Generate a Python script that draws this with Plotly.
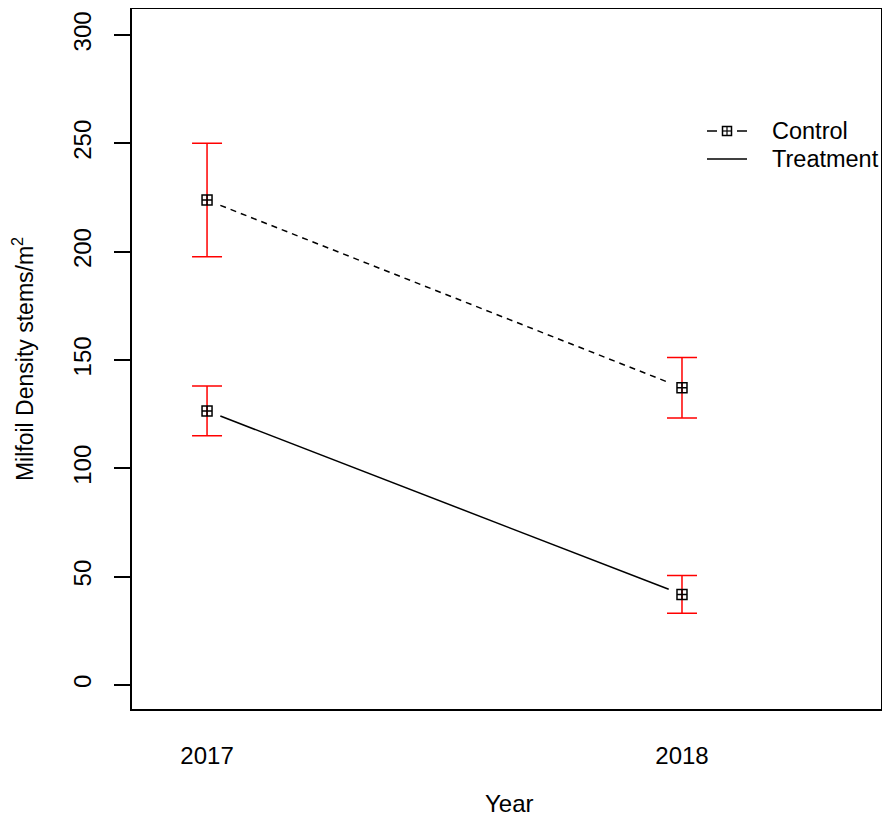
import plotly.graph_objects as go

years = [2017, 2018]
control_mean = [223.8, 137.2]
control_err = [26.2, 14.0]
treatment_mean = [126.5, 41.8]
treatment_err = [11.5, 8.7]
y_ticks = [0, 50, 100, 150, 200, 250, 300]
legend_labels = ["Control", "Treatment"]
x_title = "Year"

FONT = "Liberation Sans, Arial, sans-serif"
fig = go.Figure()

def gapped(xs, ys, t0=0.028):
    x0, x1 = xs
    y0, y1 = ys
    return ([x0 + (x1 - x0) * t0, x0 + (x1 - x0) * (1 - t0)],
            [y0 + (y1 - y0) * t0, y0 + (y1 - y0) * (1 - t0)])

DASH = "6px,5px"
# connecting lines with gaps around the points (R type="b")
cx, cy = gapped(years, control_mean)
fig.add_trace(go.Scatter(x=cx, y=cy, mode="lines", showlegend=False,
                         line=dict(color="black", width=1.5, dash=DASH)))
tx, ty = gapped(years, treatment_mean)
fig.add_trace(go.Scatter(x=tx, y=ty, mode="lines", showlegend=False,
                         line=dict(color="black", width=1.5)))

# points with error bars
for mean, err in [(control_mean, control_err), (treatment_mean, treatment_err)]:
    fig.add_trace(go.Scatter(
        x=years, y=mean, mode="markers", showlegend=False,
        marker=dict(symbol="square-cross-open", size=10, color="black",
                    line=dict(color="black", width=1.5)),
        error_y=dict(type="data", array=err, visible=True, color="#ff0000",
                     thickness=1.5, width=15)))

# plot area in page pixels (figure is offset by the 8px page margin)
PL, PR, PT, PB = 132, 881, 9, 709
def px(x):
    return (x - PL) / (PR - PL)
def py(y):
    return (PB - y) / (PB - PT)

# manual legend (R style)
shapes = []
ly1, ly2 = 131, 159
LX = 707
shapes.append(dict(type="line", xref="paper", yref="paper", x0=px(LX), x1=px(LX + 10),
                   y0=py(ly1), y1=py(ly1), line=dict(color="black", width=1.5)))
shapes.append(dict(type="line", xref="paper", yref="paper", x0=px(LX + 30), x1=px(LX + 40),
                   y0=py(ly1), y1=py(ly1), line=dict(color="black", width=1.5)))
shapes.append(dict(type="rect", xref="paper", yref="paper", x0=px(LX + 15.5), x1=px(LX + 24.5),
                   y0=py(ly1 + 4.5), y1=py(ly1 - 4.5), line=dict(color="black", width=1.5)))
shapes.append(dict(type="line", xref="paper", yref="paper", x0=px(LX + 15.5), x1=px(LX + 24.5),
                   y0=py(ly1), y1=py(ly1), line=dict(color="black", width=1.2)))
shapes.append(dict(type="line", xref="paper", yref="paper", x0=px(LX + 20), x1=px(LX + 20),
                   y0=py(ly1 + 4.5), y1=py(ly1 - 4.5), line=dict(color="black", width=1.2)))
shapes.append(dict(type="line", xref="paper", yref="paper", x0=px(LX), x1=px(LX + 40),
                   y0=py(ly2), y1=py(ly2), line=dict(color="black", width=1.5)))

annotations = []
for lab, yy in zip(legend_labels, [ly1, ly2]):
    annotations.append(dict(text=lab, xref="paper", yref="paper", x=px(LX + 63), y=py(yy),
                            xanchor="left", yanchor="middle", showarrow=False,
                            font=dict(size=23.5, color="black", family=FONT)))
# x axis title
annotations.append(dict(text=x_title, xref="paper", yref="paper", x=px(509), y=py(803),
                        xanchor="center", yanchor="middle", showarrow=False,
                        font=dict(size=24, color="black", family=FONT)))

fig.update_layout(
    width=874, height=809,
    margin=dict(l=124, r=1, t=1, b=108, autoexpand=False),
    paper_bgcolor="white", plot_bgcolor="white",
    font=dict(family=FONT, size=24, color="black"),
    showlegend=False,
    shapes=shapes, annotations=annotations,
    xaxis=dict(range=[2016.842, 2018.419], tickvals=years,
               ticktext=[str(y) for y in years], ticks="", showgrid=False,
               zeroline=False, showline=True, linecolor="black", linewidth=1.5,
               mirror=True, ticklabelstandoff=24, automargin=False),
    yaxis=dict(range=[-11.08, 312], tickvals=y_ticks, ticks="outside",
               ticklen=16, tickwidth=1.5, tickcolor="black", tickangle=-90,
               showgrid=False, zeroline=False, showline=True, linecolor="black",
               linewidth=1.5, mirror=True, ticklabelstandoff=14, automargin=False,
               title=dict(text="Milfoil Density stems/m<sup>2</sup>",
                          font=dict(size=23), standoff=33)),
)

fig.write_html("out.html")
